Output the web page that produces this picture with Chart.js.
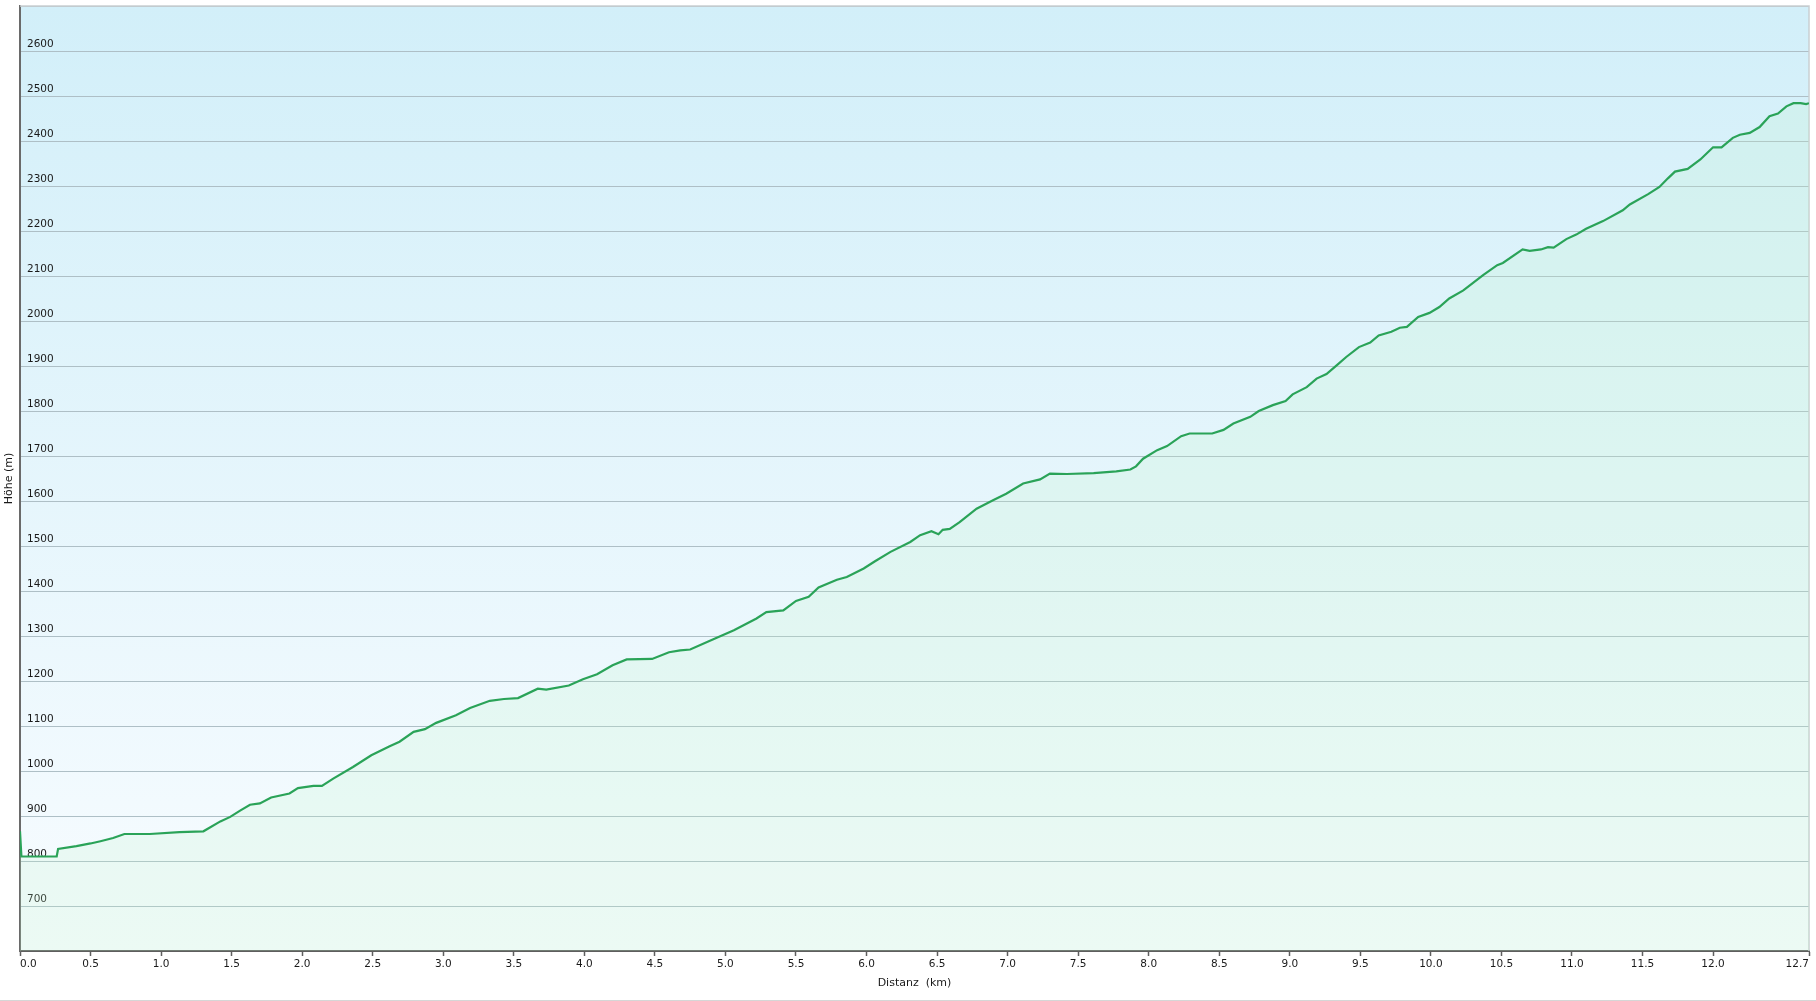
<!DOCTYPE html>
<html>
<head>
<meta charset="utf-8">
<script src="https://cdn.jsdelivr.net/npm/chart.js@4/dist/chart.umd.min.js"></script>
<style>
  html, body { margin: 0; padding: 0; background: #fff; }
  #wrap { width: 1816px; height: 1000px; border-bottom: 1px solid #d6d6d6; }
</style>
</head>
<body>
<div id="wrap"><canvas id="profile" width="1816" height="1000"></canvas></div>
<script>
// Höhenprofil
const distKm = [0, 0.01, 0.26, 0.27, 0.40, 0.50, 0.57, 0.66, 0.74, 0.92, 1.13, 1.30, 1.42, 1.49, 1.56, 1.63, 1.70, 1.78, 1.91, 1.97,
  2.08, 2.14, 2.22, 2.36, 2.49, 2.62, 2.69, 2.79, 2.87, 2.95, 3.09, 3.19, 3.33, 3.43, 3.53, 3.67, 3.73, 3.89, 3.99,
  4.09, 4.20, 4.30, 4.48, 4.60, 4.68, 4.75, 4.91, 5.06, 5.22, 5.29, 5.41, 5.50, 5.59, 5.66, 5.79, 5.86, 5.98,
  6.06, 6.17, 6.31, 6.38, 6.46, 6.51, 6.54, 6.59, 6.66, 6.78, 6.90, 6.99, 7.11, 7.23, 7.30, 7.42, 7.61, 7.77, 7.87, 7.91, 7.96,
  8.06, 8.13, 8.23, 8.29, 8.45, 8.53, 8.60, 8.72, 8.78, 8.88, 8.97, 9.02, 9.12, 9.19, 9.26, 9.33, 9.40, 9.49, 9.57, 9.63, 9.72, 9.78, 9.83, 9.91, 9.99,
  10.06, 10.13, 10.23, 10.37, 10.47, 10.51, 10.65, 10.70, 10.78, 10.83, 10.87, 10.96, 11.03, 11.10, 11.22, 11.36, 11.41, 11.54, 11.62, 11.68, 11.73, 11.82, 11.91,
  12.00, 12.06, 12.14, 12.19, 12.26, 12.33, 12.40, 12.46, 12.52, 12.57, 12.62, 12.66, 12.68];
const elevM = [866, 810, 810, 827, 833, 839, 844, 851, 860, 860, 864, 866, 888, 898, 912, 925, 928, 941, 950, 962,
  967, 967, 983, 1009, 1035, 1055, 1065, 1087, 1093, 1107, 1124, 1140, 1156, 1160, 1162, 1183, 1181, 1190, 1204,
  1215, 1235, 1248, 1249, 1264, 1268, 1270, 1292, 1313, 1339, 1353, 1357, 1378, 1387, 1408, 1425, 1431, 1450,
  1466, 1487, 1509, 1524, 1533, 1526, 1536, 1538, 1553, 1583, 1602, 1616, 1639, 1648, 1661, 1660, 1662, 1666, 1670, 1677, 1694,
  1713, 1722, 1744, 1750, 1750, 1758, 1772, 1787, 1800, 1813, 1822, 1837, 1853, 1872, 1882, 1901, 1920, 1942, 1952, 1968, 1976, 1985, 1987, 2009, 2018,
  2031, 2050, 2068, 2102, 2124, 2129, 2159, 2156, 2159, 2164, 2163, 2182, 2192, 2205, 2222, 2246, 2259, 2282, 2298, 2317, 2332, 2338, 2359,
  2386, 2386, 2407, 2414, 2418, 2431, 2455, 2461, 2477, 2484, 2484, 2482, 2484];

const xTicks = [0, 0.5, 1, 1.5, 2, 2.5, 3, 3.5, 4, 4.5, 5, 5.5, 6, 6.5, 7, 7.5, 8, 8.5, 9, 9.5, 10, 10.5, 11, 11.5, 12, 12.68];
const yTicks = [600, 700, 800, 900, 1000, 1100, 1200, 1300, 1400, 1500, 1600, 1700, 1800, 1900, 2000, 2100, 2200, 2300, 2400, 2500, 2600, 2700];

const points = distKm.map((d, i) => ({ x: d, y: elevM[i] }));

// plot background gradient + thin frame at top/right
const plotBg = {
  id: 'plotBg',
  beforeDraw(chart) {
    const { ctx, chartArea: a } = chart;
    const g = ctx.createLinearGradient(0, a.top, 0, a.bottom);
    g.addColorStop(0, 'rgb(210,239,249)');
    g.addColorStop(1, 'rgb(248,252,255)');
    ctx.save();
    ctx.fillStyle = g;
    ctx.fillRect(a.left, a.top, a.right - a.left, a.bottom - a.top);
    ctx.restore();
  },
  beforeDatasetsDraw(chart) {
    const { ctx, chartArea: a } = chart;
    ctx.save();
    ctx.strokeStyle = '#c9cfd2';
    ctx.lineWidth = 1.5;
    ctx.beginPath();
    ctx.moveTo(a.left, a.top);
    ctx.lineTo(a.right, a.top);
    ctx.lineTo(a.right, a.bottom);
    ctx.stroke();
    ctx.restore();
  }
};

const tickFont = { family: 'DejaVu Sans', size: 10.5 };
const titleFont = { family: 'DejaVu Sans', size: 11 };

new Chart(document.getElementById('profile'), {
  type: 'line',
  data: {
    datasets: [{
      data: points,
      borderColor: 'rgb(42,163,88)',
      borderWidth: 2.2,
      backgroundColor: 'rgba(190,246,200,0.2)',
      fill: 'start',
      pointRadius: 0,
      tension: 0
    }]
  },
  options: {
    responsive: false,
    devicePixelRatio: 1,
    animation: false,
    layout: { padding: { top: 6, right: 7, left: 0, bottom: 0 } },
    plugins: { legend: { display: false }, tooltip: { enabled: false } },
    scales: {
      x: {
        type: 'linear',
        min: 0,
        max: 12.68,
        afterBuildTicks: s => { s.ticks = xTicks.map(v => ({ value: v })); },
        afterFit: s => { s.height = 49; s.paddingLeft = 0; s.paddingRight = 0; },
        border: { color: '#5e5e5e', width: 2 },
        grid: { drawOnChartArea: false, drawTicks: true, tickLength: 5, tickColor: '#5e5e5e', tickWidth: 1.5 },
        ticks: {
          align: 'inner',
          padding: 2,
          color: '#1a1a1a',
          font: tickFont,
          maxRotation: 0,
          autoSkip: false,
          callback: v => Number(v).toFixed(1)
        },
        title: { display: true, text: 'Distanz  (km)', color: '#1a1a1a', font: titleFont, padding: { top: 0, bottom: 10 } }
      },
      y: {
        min: 600,
        max: 2700,
        afterBuildTicks: s => { s.ticks = yTicks.map(v => ({ value: v })); },
        afterFit: s => { s.width = 20; s.paddingTop = 0; s.paddingBottom = 0; },
        border: { color: '#6a6a6a', width: 2 },
        grid: { color: '#aebfc6', lineWidth: 1, drawTicks: false },
        ticks: {
          mirror: true,
          padding: 7,
          labelOffset: -7,
          color: '#1a1a1a',
          font: tickFont,
          autoSkip: false,
          callback: v => (v === yTicks[0] || v === yTicks[yTicks.length - 1]) ? '' : String(v)
        },
        title: { display: true, text: 'Höhe (m)', color: '#1a1a1a', font: titleFont, padding: { top: 3, bottom: 0 } }
      }
    }
  },
  plugins: [plotBg]
});
</script>
</body>
</html>
